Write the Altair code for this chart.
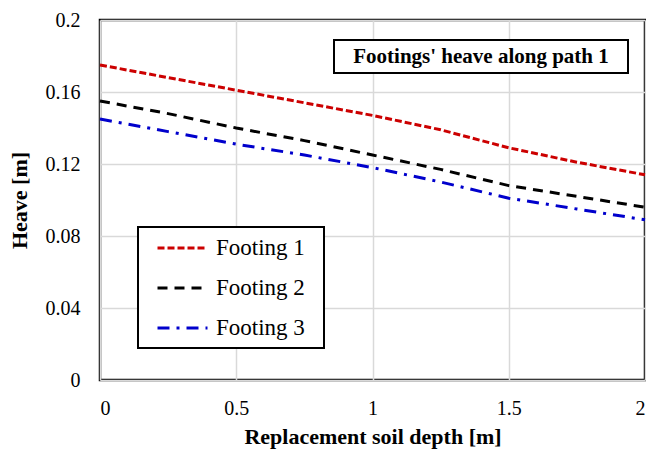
import altair as alt
import pandas as pd

depth = [0, 0.25, 0.5, 0.75, 1.0, 1.25, 1.5, 1.75, 2.0]
footing1 = [0.175, 0.168, 0.161, 0.154, 0.147, 0.139, 0.129, 0.121, 0.114]
footing2 = [0.155, 0.148, 0.140, 0.133, 0.125, 0.117, 0.108, 0.102, 0.096]
footing3 = [0.145, 0.138, 0.131, 0.125, 0.118, 0.110, 0.101, 0.095, 0.089]
series = ["Footing 1", "Footing 2", "Footing 3"]
colors = ["#cc0000", "#000000", "#0000cc"]
dashes = [[7, 3], [10, 7], [12, 7, 3, 7]]
x_ticks = [0, 0.5, 1, 1.5, 2]
y_ticks = [0, 0.04, 0.08, 0.12, 0.16, 0.2]

rows = []
for name, vals in zip(series, [footing1, footing2, footing3]):
    for d, v in zip(depth, vals):
        rows.append({"depth": d, "heave": v, "series": name})
df = pd.DataFrame(rows)

FONT = "Liberation Serif"

leg = dict(title=None, orient="none", legendX=56, legendY=214,
           symbolType="stroke", symbolSize=2500, symbolStrokeWidth=3,
           labelFontSize=23, labelFont=FONT, labelColor="black",
           rowPadding=12, clipHeight=28, padding=0, labelOffset=7)

lines = alt.Chart(df).mark_line(strokeWidth=3).encode(
    x=alt.X("depth:Q", scale=alt.Scale(domain=[0, 2], nice=False),
            axis=alt.Axis(values=x_ticks, title="Replacement soil depth [m]",
                          labelExpr="datum.value == 0 ? '0' : format(datum.value, '')",
                          labelFont=FONT, labelFontSize=20, labelPadding=18, ticks=False,
                          titleFont=FONT, titleFontSize=22, titleFontWeight="bold", titlePadding=8,
                          gridColor="#d9d9d9", gridWidth=1.5, domain=False)),
    y=alt.Y("heave:Q", scale=alt.Scale(domain=[0, 0.2], nice=False),
            axis=alt.Axis(values=y_ticks, title="Heave [m]",
                          labelExpr="datum.value == 0 ? '0' : format(datum.value, '')",
                          labelFont=FONT, labelFontSize=20, labelPadding=20, ticks=False,
                          titleFont=FONT, titleFontSize=22, titleFontWeight="bold", titlePadding=14,
                          gridColor="#d9d9d9", gridWidth=1.5, domain=False)),
    color=alt.Color("series:N", scale=alt.Scale(domain=series, range=colors),
                    legend=alt.Legend(**leg)),
    strokeDash=alt.StrokeDash("series:N", scale=alt.Scale(domain=series, range=dashes),
                              legend=alt.Legend(**leg)),
)

legbox = alt.Chart(pd.DataFrame({"a": [0]})).mark_rect(fill="white", stroke="black", strokeWidth=2).encode(
    x=alt.value(38), x2=alt.value(224), y=alt.value(207), y2=alt.value(328))
box = alt.Chart(pd.DataFrame({"a": [0]})).mark_rect(fill="white", stroke="black", strokeWidth=2).encode(
    x=alt.value(234), x2=alt.value(528), y=alt.value(20), y2=alt.value(53))
label = alt.Chart(pd.DataFrame({"t": ["Footings' heave along path 1"]})).mark_text(
    font=FONT, fontSize=21, fontWeight="bold", color="black", align="center", baseline="middle").encode(
    text="t:N", x=alt.value(381), y=alt.value(37))

chart = alt.layer(lines, legbox, box, label).properties(
    width=545, height=360,
    autosize=alt.AutoSizeParams(type="none"),
    padding={"left": 92, "top": 12, "right": 1, "bottom": 72},
).configure(font=FONT).configure_axis(
    labelColor="black", titleColor="black"
).configure_view(stroke="black", strokeWidth=2.5)

chart.save("out.html", embed_options={"renderer": "svg", "actions": False})
